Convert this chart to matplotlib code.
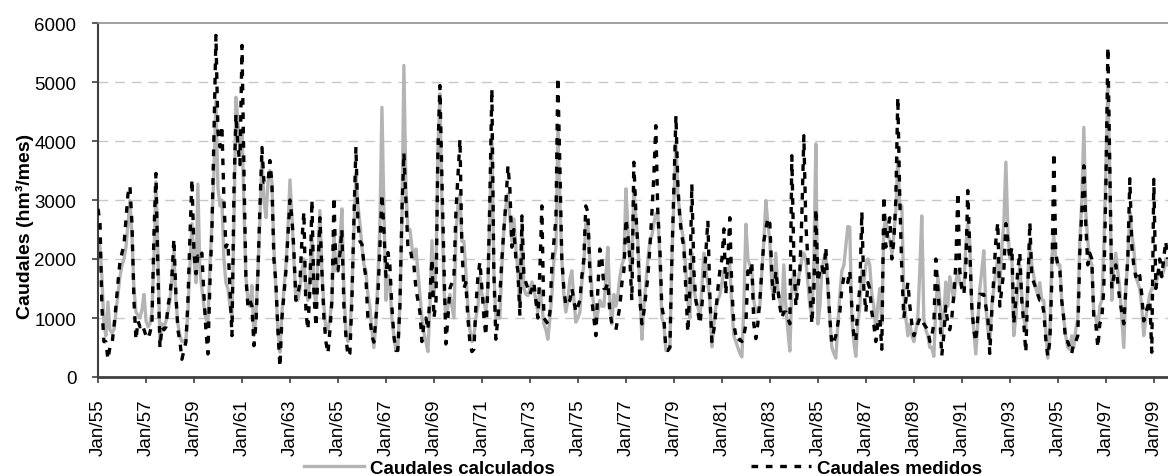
import numpy as np
import pandas as pd
import matplotlib
matplotlib.use("Agg")
import matplotlib.pyplot as plt

plt.rcParams['font.family'] = ['Liberation Sans', 'DejaVu Sans']

# monthly flows (hm3/month), Jan 1955 onwards
calculados = [
    2350, 2200, 1700, 900, 700, 1270, 800, 750, 800, 1100, 1400, 1700,      # 1955
    1900, 2000, 2200, 2600, 2990, 2400, 1500, 1100, 1050, 1000, 1150, 1400, # 1956
    950, 850, 900, 1100, 2000, 3310, 2100, 600, 900, 850, 950, 1100,        # 1957
    1300, 1700, 2100, 1300, 900, 700, 600, 600, 650, 1100, 1900, 2600,      # 1958
    2000, 1600, 3270, 1800, 1500, 1200, 1000, 900, 1900, 2600, 3500, 4680,  # 1959
    3200, 2900, 3000, 2000, 1600, 1500, 1200, 1000, 2600, 4740, 4300, 3800, # 1960
    4200, 2800, 1700, 1300, 1200, 1550, 700, 1000, 1800, 2700, 3700, 3000,  # 1961
    2700, 3300, 3500, 3300, 2200, 1500, 800, 420, 1100, 1500, 1900, 2500,   # 1962
    3340, 2700, 2000, 1300, 1300, 1500, 1800, 2000, 1500, 1300, 1700, 2400, # 1963
    1500, 1200, 2000, 2820, 1800, 1200, 800, 800, 1000, 1300, 2400, 1800,   # 1964
    1900, 2300, 2850, 1500, 800, 600, 700, 1500, 2500, 3450, 2900, 2600,    # 1965
    2200, 1900, 1800, 1400, 1200, 800, 500, 900, 1700, 2600, 4570, 2800,    # 1966
    1300, 1720, 1600, 1000, 700, 450, 500, 1200, 2600, 5280, 3200, 2500,    # 1967
    2500, 2200, 2000, 2170, 1800, 1400, 1000, 750, 600, 430, 1200, 2310,    # 1968
    1400, 1800, 3800, 4800, 3000, 1500, 1000, 1200, 1400, 1200, 1000, 2400, # 1969
    2900, 3100, 2300, 2300, 1800, 1200, 800, 600, 700, 1000, 1200, 1700,    # 1970
    1400, 1300, 1100, 1500, 2800, 4090, 1800, 1000, 1000, 1000, 1900, 2500, # 1971
    2900, 3100, 2700, 2300, 2680, 2200, 1800, 1200, 2600, 1500, 1400, 1380, # 1972
    1500, 1610, 1500, 1300, 1100, 1500, 1200, 900, 800, 640, 1000, 1400,    # 1973
    2000, 2200, 4150, 3000, 2000, 1400, 1100, 1300, 1660, 1800, 1300, 930,  # 1974
    1000, 1100, 1600, 1900, 2600, 2600, 2000, 1500, 1200, 900, 1100, 1300,  # 1975
    1200, 1200, 1700, 2200, 1300, 900, 1400, 1200, 1400, 1700, 1900, 2000,  # 1976
    3190, 2500, 2000, 1800, 3200, 2700, 2300, 1500, 640, 1200, 1600, 2000,  # 1977
    2300, 2400, 2600, 2760, 2800, 2000, 1000, 900, 450, 450, 500, 2000,     # 1978
    3000, 3990, 3100, 2800, 2500, 2300, 1800, 1300, 1000, 2100, 1500, 1300, # 1979
    1200, 1000, 1500, 2100, 1800, 1600, 1300, 510, 900, 1200, 1300, 1400,   # 1980
    1600, 1800, 1700, 1800, 1900, 1200, 700, 600, 500, 400, 340, 1200,      # 1981
    2590, 2000, 1900, 1800, 1300, 1100, 1100, 1200, 1800, 2300, 2990, 2600, # 1982
    2300, 1500, 1400, 2100, 1500, 1300, 1100, 1900, 1200, 800, 440, 1500,   # 1983
    1800, 1400, 1600, 1800, 2000, 2100, 2000, 1600, 1200, 1000, 2000, 3950, # 1984
    900, 1200, 1800, 2000, 2100, 1500, 1000, 500, 400, 320, 900, 1400,      # 1985
    1800, 1900, 2200, 2550, 2540, 1000, 600, 350, 900, 1200, 1800, 1600,    # 1986
    1900, 2000, 1900, 1400, 1200, 800, 1200, 1500, 900, 2500, 2700, 2400,   # 1987
    2300, 2100, 2400, 2800, 3700, 2900, 2900, 1400, 1000, 700, 900, 700,    # 1988
    600, 800, 1000, 1800, 2730, 1000, 800, 700, 500, 500, 350, 1200,        # 1989
    1700, 1300, 700, 1000, 1610, 1200, 1700, 1500, 1300, 1600, 1800, 1600,  # 1990
    1500, 1500, 2200, 2600, 2300, 1200, 800, 390, 900, 1500, 1800, 2140,    # 1991
    1200, 800, 600, 1200, 1500, 1800, 2000, 1500, 2200, 2600, 3640, 2500,   # 1992
    2000, 2000, 700, 1000, 1500, 1900, 1400, 1000, 800, 1700, 2300, 1900,   # 1993
    1700, 1500, 1400, 1600, 1300, 1300, 800, 320, 700, 2000, 2400, 2000,    # 1994
    1900, 1900, 1300, 1000, 700, 500, 470, 700, 500, 800, 1000, 2300,       # 1995
    3000, 4230, 2800, 2300, 2000, 1900, 1100, 1000, 800, 1200, 1300, 2200,  # 1996
    3500, 4940, 3500, 1300, 1900, 2100, 1800, 1500, 1000, 500, 1500, 2000,  # 1997
    2800, 2400, 2200, 1700, 1600, 1500, 1200, 700, 1000, 1200, 1400, 1500,  # 1998
    1500, 1600, 1700, 1800, 1700, 1800, 2000, 1900,                         # 1999
]

medidos = [
    2850, 2600, 1200, 600, 600, 300, 500, 550, 850, 1200, 1600, 1950,       # 1955
    2100, 2250, 2650, 3100, 3240, 2600, 1300, 630, 950, 850, 900, 800,      # 1956
    700, 650, 750, 900, 2400, 3450, 1800, 500, 850, 800, 850, 1200,         # 1957
    1400, 1750, 2340, 1400, 800, 600, 300, 450, 600, 1300, 2400, 3350,      # 1958
    2100, 1750, 2050, 2000, 2100, 1400, 800, 390, 1600, 2500, 4100, 5790,   # 1959
    4150, 3900, 4260, 3000, 2200, 2280, 1500, 700, 3200, 4450, 3900, 3600,  # 1960
    5620, 3400, 1700, 1200, 1300, 1200, 530, 900, 1800, 2900, 3890, 3300,   # 1961
    3300, 3300, 3670, 3300, 2000, 1600, 800, 170, 1000, 1400, 1800, 2400,   # 1962
    3000, 2680, 2170, 1300, 1400, 1600, 2300, 2800, 1100, 800, 1500, 3000,  # 1963
    1400, 850, 1800, 2700, 1800, 1000, 600, 400, 800, 1300, 3050, 1800,     # 1964
    1800, 2100, 2500, 1200, 700, 350, 400, 1300, 2700, 3900, 2600, 2300,    # 1965
    2250, 1890, 1700, 1000, 1000, 700, 590, 1000, 1400, 2200, 3100, 2500,   # 1966
    1700, 2110, 1900, 1200, 700, 450, 450, 1200, 2800, 3800, 3000, 2200,    # 1967
    2200, 2000, 1900, 1500, 1300, 1100, 600, 900, 1000, 800, 1400, 2000,    # 1968
    1000, 1300, 3800, 4940, 3410, 2000, 560, 1000, 1500, 1600, 1700, 2800,  # 1969
    3400, 4030, 2220, 1500, 1600, 1000, 600, 430, 470, 1200, 1700, 1950,    # 1970
    1500, 1000, 700, 1500, 3000, 4880, 1800, 640, 1000, 1400, 2000, 2500,   # 1971
    2960, 3580, 3200, 2200, 2500, 2000, 1800, 1040, 2730, 1700, 1600, 1500, # 1972
    1400, 1500, 1600, 1300, 1000, 1800, 2900, 1000, 950, 900, 1100, 1900,   # 1973
    2300, 2700, 5080, 3600, 2000, 1500, 1210, 1250, 1300, 1500, 1300, 1100, # 1974
    1200, 1300, 1700, 2000, 2900, 2800, 1800, 1300, 1000, 700, 1500, 2170,  # 1975
    2000, 1500, 1500, 1600, 1100, 900, 850, 800, 1000, 1200, 1600, 1800,    # 1976
    2680, 2400, 2000, 1300, 3640, 2800, 2200, 1300, 900, 1100, 1400, 1700,  # 1977
    2200, 2800, 3400, 4260, 2800, 2200, 1200, 1000, 470, 450, 500, 2000,    # 1978
    3200, 4430, 3300, 2680, 2400, 2200, 1500, 760, 1500, 3270, 1800, 1300,  # 1979
    1100, 900, 1200, 1600, 2100, 2650, 1400, 600, 800, 1100, 1500, 1800,    # 1980
    2000, 2510, 1400, 2000, 2700, 1500, 900, 700, 600, 640, 600, 700,       # 1981
    900, 1800, 1700, 1950, 900, 650, 900, 1300, 1800, 2300, 2500, 2700,     # 1982
    2600, 1700, 1300, 1800, 1500, 1200, 1000, 1100, 1100, 1000, 900, 3750,  # 1983
    2000, 1200, 1500, 1800, 2700, 4090, 2600, 2000, 1500, 900, 1500, 2850,  # 1984
    1610, 1800, 1900, 1700, 2200, 1600, 1000, 550, 600, 700, 900, 1100,     # 1985
    1500, 1700, 1700, 1600, 1800, 1200, 700, 600, 1200, 1500, 2800, 1500,   # 1986
    1100, 1600, 1500, 1100, 900, 600, 900, 1000, 470, 3070, 2200, 2500,     # 1987
    2700, 2000, 2300, 3000, 4740, 3000, 1800, 1000, 1300, 1600, 1200, 900,  # 1988
    700, 800, 900, 1000, 1000, 900, 850, 800, 600, 700, 900, 2000,          # 1989
    1500, 1000, 360, 700, 1200, 900, 800, 1000, 1400, 1900, 3130, 1800,     # 1990
    1500, 1400, 1800, 3160, 2220, 1200, 800, 600, 1000, 1400, 1400, 1400,   # 1991
    1200, 1000, 400, 1100, 1700, 2300, 2620, 1200, 1500, 1800, 2600, 2300,  # 1992
    2000, 2200, 900, 1300, 1800, 2110, 1300, 900, 420, 1500, 2620, 1700,    # 1993
    1600, 1500, 1400, 1300, 1300, 1100, 650, 350, 600, 1600, 3800, 2100,    # 1994
    1900, 1800, 1300, 1000, 600, 600, 500, 400, 600, 600, 700, 2100,        # 1995
    2800, 3580, 2600, 1900, 2100, 2000, 1000, 900, 500, 900, 1000, 1500,    # 1996
    3200, 5590, 3700, 1500, 1700, 1900, 1600, 1300, 1100, 900, 1500, 2000,  # 1997
    3360, 2200, 1900, 1700, 1800, 1720, 1400, 950, 1100, 1200, 1300, 420,   # 1998
    3350, 1500, 1700, 2000, 1700, 2000, 2300, 2000,                         # 1999
]

fechas = pd.date_range('1955-01-01', periods=len(medidos), freq='MS')
ticks = pd.date_range('1955-01-01', '1999-01-01', freq='24MS')
tick_labels = [t.strftime('Jan/%y') for t in ticks]

fig = plt.figure(figsize=(11.68, 4.77), dpi=100)
ax = fig.add_axes([98/1168, 1 - 378/477, 1 - 98/1168, (378 - 24)/477])

ax.plot(fechas, calculados, color='#b4b4b4', lw=2.4, label='Caudales calculados', zorder=2)
ax.plot(fechas, medidos, color='black', lw=2.4, ls=(0, (2.0, 2.3)), label='Caudales medidos', zorder=3)

ax.set_ylim(0, 6000)
ax.set_yticks(np.arange(0, 6001, 1000))
ax.set_xlim(fechas[0], pd.Timestamp('1999-08-05'))
ax.set_xticks(ticks)
ax.set_xticklabels(tick_labels, rotation=90)

for y in range(1000, 6000, 1000):
    ax.axhline(y, color='#c8c8c8', lw=1, ls=(0, (7, 5)), zorder=1)

ax.spines['right'].set_visible(False)
ax.spines['top'].set_color('#909090')
ax.spines['top'].set_linewidth(1.2)
ax.spines['left'].set_color('#404040')
ax.spines['left'].set_linewidth(1.5)
ax.spines['bottom'].set_color('#404040')
ax.spines['bottom'].set_linewidth(2)
ax.tick_params(axis='both', labelsize=13.5, length=4.5, width=1.2, color='#404040')
ax.tick_params(axis='y', pad=11)
ax.tick_params(axis='x', pad=11)

ax.set_ylabel('Caudales (hm³/mes)', fontsize=14, fontweight='bold')
ax.yaxis.set_label_coords(-64/1070, 0.427)

fig.legend(loc='center', bbox_to_anchor=(643/1168, 8/477), ncol=2, frameon=False,
           prop={'size': 13.5, 'weight': 'bold'}, handlelength=3.2, handletextpad=0.3,
           columnspacing=10.5, borderaxespad=0, borderpad=0)

fig.savefig('out.png', dpi=100)
